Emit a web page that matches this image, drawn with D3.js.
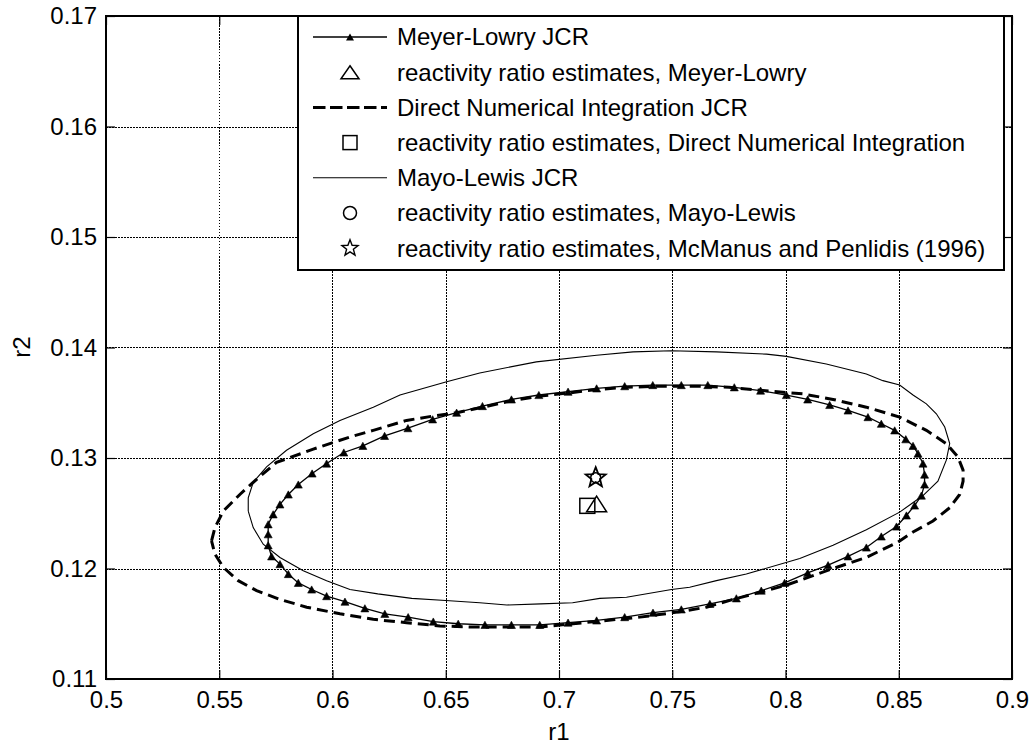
<!DOCTYPE html>
<html>
<head>
<meta charset="utf-8">
<script src="https://cdn.jsdelivr.net/npm/d3@7"></script>
<style>
  html, body { margin: 0; padding: 0; background: #fff; }
  svg { display: block; font-family: "Liberation Sans", Arial, Helvetica, sans-serif; }
</style>
</head>
<body>
<svg id="chart" width="1036" height="746"></svg>
<script>
// ---------------- data ----------------
const xTicks = [0.5, 0.55, 0.6, 0.65, 0.7, 0.75, 0.8, 0.85, 0.9];
const xTickLabels = ["0.5", "0.55", "0.6", "0.65", "0.7", "0.75", "0.8", "0.85", "0.9"];
const yTicks = [0.11, 0.12, 0.13, 0.14, 0.15, 0.16, 0.17];
const yTickLabels = ["0.11", "0.12", "0.13", "0.14", "0.15", "0.16", "0.17"];

// Meyer-Lowry JCR (r1, r2)
const meyerLowryR1 = [0.5716,0.5738,0.5768,0.5805,0.5849,0.5910,0.5974,0.6050,0.6134,0.6230,0.6333,0.6442,0.6548,0.6662,0.6790,0.6911,0.7040,0.7166,0.7290,0.7414,0.7540,0.7657,0.7774,0.7890,0.8004,0.8098,0.8195,0.8276,0.8364,0.8423,0.8482,0.8531,0.8563,0.8585,0.8607,0.8614,0.8614,0.8600,0.8570,0.8534,0.8490,0.8423,0.8357,0.8276,0.8188,0.8098,0.7996,0.7893,0.7783,0.7666,0.7540,0.7415,0.7290,0.7166,0.7040,0.6915,0.6790,0.6673,0.6555,0.6445,0.6334,0.6231,0.6143,0.6055,0.5974,0.5908,0.5849,0.5805,0.5768,0.5731,0.5716,0.5716,0.5716];
const meyerLowryR2 = [0.1240,0.1249,0.1258,0.1267,0.1276,0.1286,0.1295,0.1305,0.1311,0.1320,0.1327,0.1335,0.1341,0.1347,0.1353,0.1357,0.1360,0.1363,0.1365,0.1366,0.1366,0.1366,0.1364,0.1361,0.1357,0.1353,0.1348,0.1343,0.1337,0.1331,0.1325,0.1317,0.1311,0.1304,0.1295,0.1285,0.1276,0.1266,0.1257,0.1248,0.1238,0.1229,0.1219,0.1211,0.1203,0.1196,0.1187,0.1180,0.1173,0.1168,0.1163,0.1160,0.1156,0.1153,0.1151,0.1149,0.1149,0.1149,0.1150,0.1152,0.1156,0.1159,0.1164,0.1170,0.1175,0.1181,0.1187,0.1195,0.1204,0.1211,0.1221,0.1231,0.1240];

// Direct Numerical Integration JCR
const dniR1 = [0.5466,0.5481,0.5518,0.5591,0.5672,0.5753,0.5915,0.6003,0.6077,0.6180,0.6327,0.6445,0.6548,0.6665,0.6798,0.6916,0.7048,0.7166,0.7300,0.7450,0.7600,0.7750,0.7900,0.8077,0.8210,0.8357,0.8504,0.8622,0.8710,0.8761,0.8784,0.8784,0.8769,0.8725,0.8651,0.8563,0.8497,0.8357,0.8210,0.8004,0.7916,0.7768,0.7651,0.7540,0.7357,0.7210,0.7062,0.6915,0.6768,0.6621,0.6474,0.6327,0.6180,0.6033,0.5886,0.5768,0.5665,0.5584,0.5518,0.5481,0.5466];
const dniR2 = [0.1225,0.1237,0.1252,0.1267,0.1282,0.1296,0.1308,0.1314,0.1319,0.1325,0.1334,0.1338,0.1341,0.1346,0.1352,0.1356,0.1359,0.1362,0.1364,0.1365,0.1365,0.1364,0.1361,0.1358,0.1353,0.1346,0.1337,0.1325,0.1313,0.1301,0.1289,0.1279,0.1267,0.1255,0.1243,0.1233,0.1224,0.1210,0.1200,0.1185,0.1180,0.1172,0.1165,0.1161,0.1156,0.1153,0.1150,0.1147,0.1147,0.1147,0.1148,0.1151,0.1154,0.1159,0.1165,0.1172,0.1180,0.1189,0.1201,0.1213,0.1225];

// Mayo-Lewis JCR
const mayoLewisR1 = [0.5628,0.5628,0.5650,0.5709,0.5797,0.5915,0.6033,0.6180,0.6298,0.6504,0.6650,0.6900,0.7166,0.7327,0.7496,0.7695,0.7916,0.8004,0.8180,0.8357,0.8430,0.8504,0.8563,0.8622,0.8666,0.8703,0.8725,0.8710,0.8673,0.8607,0.8504,0.8357,0.8210,0.8063,0.7827,0.7695,0.7577,0.7497,0.7298,0.7180,0.7060,0.6920,0.6770,0.6650,0.6500,0.6350,0.6200,0.6077,0.5974,0.5871,0.5768,0.5694,0.5650,0.5628];
const mayoLewisR2 = [0.1252,0.1264,0.1278,0.1292,0.1307,0.1322,0.1334,0.1346,0.1357,0.1369,0.1377,0.1387,0.1393,0.1396,0.1397,0.1396,0.1394,0.1392,0.1385,0.1376,0.1370,0.1366,0.1357,0.1349,0.1340,0.1328,0.1313,0.1298,0.1279,0.1266,0.1251,0.1235,0.1221,0.1209,0.1195,0.1189,0.1183,0.1181,0.1174,0.1173,0.1169,0.1168,0.1167,0.1169,0.1171,0.1173,0.1177,0.1181,0.1189,0.1198,0.1210,0.1222,0.1237,0.1252];

// point estimates
const estMeyerLowry = [0.7166, 0.12584];
const estDNI = [0.7125, 0.12567];
const estMayoLewis = [0.7162, 0.12822];
const estMcManus = [0.7162, 0.12822];

const legendLabels = [
  "Meyer-Lowry JCR",
  "reactivity ratio estimates, Meyer-Lowry",
  "Direct Numerical Integration JCR",
  "reactivity ratio estimates, Direct Numerical Integration",
  "Mayo-Lewis JCR",
  "reactivity ratio estimates, Mayo-Lewis",
  "reactivity ratio estimates, McManus and Penlidis (1996)"
];

// ---------------- layout ----------------
const L = 106, R = 1012, T = 16, B = 679;
const FS = 24;
const svg = d3.select("#chart");
const x = d3.scaleLinear().domain([0.5, 0.9]).range([L, R]);
const y = d3.scaleLinear().domain([0.11, 0.17]).range([B, T]);

svg.append("rect").attr("x", 0).attr("y", 0).attr("width", 1036).attr("height", 746).attr("fill", "#fff");

// grid
const grid = svg.append("g").attr("stroke", "#000").attr("stroke-width", 1).attr("stroke-dasharray", "1.5,1.5").attr("shape-rendering", "crispEdges");
grid.selectAll("line.gx").data(xTicks).join("line").attr("class", "gx")
  .attr("x1", d => Math.round(x(d)) + 0.5).attr("x2", d => Math.round(x(d)) + 0.5).attr("y1", T).attr("y2", B);
grid.selectAll("line.gy").data(yTicks).join("line").attr("class", "gy")
  .attr("y1", d => Math.round(y(d)) + 0.5).attr("y2", d => Math.round(y(d)) + 0.5).attr("x1", L).attr("x2", R);

// curves
const zip = (a, b) => a.map((v, i) => [v, b[i]]);
const mlPts = zip(meyerLowryR1, meyerLowryR2);
const dniPts = zip(dniR1, dniR2);
const mayoPts = zip(mayoLewisR1, mayoLewisR2);
const line = d3.line().x(d => x(d[0])).y(d => y(d[1]));

svg.append("path").attr("d", line(mayoPts)).attr("fill", "none").attr("stroke", "#000").attr("stroke-width", 1.1);
svg.append("path").attr("d", line(dniPts)).attr("fill", "none").attr("stroke", "#000").attr("stroke-width", 3).attr("stroke-dasharray", "11,6");
svg.append("path").attr("d", line(mlPts)).attr("fill", "none").attr("stroke", "#000").attr("stroke-width", 1.3);

function triPath(hw, hh) {
  return `M0,${-hh}L${hw},${hh}L${-hw},${hh}Z`;
}
svg.append("g").selectAll("path").data(mlPts.slice(0, -1)).join("path")
  .attr("transform", d => `translate(${x(d[0])},${y(d[1])})`)
  .attr("d", triPath(4, 3.6)).attr("fill", "#000").attr("stroke", "#000").attr("stroke-width", 0.6);

function starPath(ro, ri) {
  let p = "";
  for (let i = 0; i < 10; i++) {
    const r = i % 2 === 0 ? ro : ri;
    const a = -Math.PI / 2 + i * Math.PI / 5;
    p += (i ? "L" : "M") + (r * Math.cos(a)).toFixed(2) + "," + (r * Math.sin(a)).toFixed(2);
  }
  return p + "Z";
}

// estimates
const est = svg.append("g").attr("fill", "none").attr("stroke", "#000");
est.append("rect").attr("x", x(estDNI[0]) - 7.5).attr("y", y(estDNI[1]) - 7.5).attr("width", 15).attr("height", 15).attr("stroke-width", 1.5);
est.append("path").attr("transform", `translate(${x(estMeyerLowry[0])},${y(estMeyerLowry[1])})`).attr("d", triPath(10, 7.8)).attr("stroke-width", 1.5);
est.append("circle").attr("cx", x(estMayoLewis[0])).attr("cy", y(estMayoLewis[1])).attr("r", 5).attr("stroke-width", 1.5);
est.append("path").attr("transform", `translate(${x(estMcManus[0])},${y(estMcManus[1])})`).attr("d", starPath(10.5, 4.5)).attr("stroke-width", 1.8);

// axes (inward ticks)
const ax = svg.append("g");
ax.append("g").attr("transform", `translate(0,${B})`)
  .call(d3.axisBottom(x).tickValues(xTicks).tickFormat((d, i) => xTickLabels[i]).tickSize(-9).tickPadding(12));
ax.append("g").attr("transform", `translate(${L},0)`)
  .call(d3.axisLeft(y).tickValues(yTicks).tickFormat((d, i) => yTickLabels[i]).tickSize(-9).tickPadding(9));
ax.append("g").attr("transform", `translate(0,${T})`)
  .call(d3.axisTop(x).tickValues(xTicks).tickFormat("").tickSize(-9));
ax.append("g").attr("transform", `translate(${R},0)`)
  .call(d3.axisRight(y).tickValues(yTicks).tickFormat("").tickSize(-9));
ax.selectAll(".domain").remove();
ax.selectAll(".tick line").attr("stroke", "#000").attr("stroke-width", 1.2);
ax.selectAll(".tick text").attr("font-size", FS).attr("fill", "#000").attr("font-family", "'Liberation Sans', Arial, sans-serif");

svg.append("rect").attr("x", L).attr("y", T).attr("width", R - L).attr("height", B - T)
  .attr("fill", "none").attr("stroke", "#000").attr("stroke-width", 2);

// axis labels
svg.append("text").attr("x", (L + R) / 2).attr("y", 740).attr("text-anchor", "middle").attr("font-size", FS).text("r1");
svg.append("text").attr("transform", "translate(30,347) rotate(-90)").attr("text-anchor", "middle").attr("font-size", FS).text("r2");

// legend
const lg = svg.append("g");
lg.append("rect").attr("x", 298).attr("y", T).attr("width", 706).attr("height", 254)
  .attr("fill", "#fff").attr("stroke", "#000").attr("stroke-width", 2);
const rowY = i => 37 + i * 35.2;
const sx0 = 313, sx1 = 387, sxm = 350;
legendLabels.forEach((t, i) => {
  lg.append("text").attr("x", 397).attr("y", rowY(i)).attr("dy", "0.35em").attr("font-size", FS).text(t);
});
lg.append("line").attr("x1", sx0).attr("x2", sx1).attr("y1", rowY(0)).attr("y2", rowY(0)).attr("stroke", "#000").attr("stroke-width", 1.3);
lg.append("path").attr("transform", `translate(${sxm},${rowY(0)})`).attr("d", triPath(4, 3.6)).attr("fill", "#000");
lg.append("path").attr("transform", `translate(${sxm},${rowY(1)})`).attr("d", triPath(9, 6.5)).attr("fill", "none").attr("stroke", "#000").attr("stroke-width", 1.5);
lg.append("line").attr("x1", sx0).attr("x2", sx1).attr("y1", rowY(2)).attr("y2", rowY(2)).attr("stroke", "#000").attr("stroke-width", 3).attr("stroke-dasharray", "12.5,4.5");
lg.append("rect").attr("x", sxm - 7).attr("y", rowY(3) - 7).attr("width", 14).attr("height", 14).attr("fill", "none").attr("stroke", "#000").attr("stroke-width", 1.5);
lg.append("line").attr("x1", sx0).attr("x2", sx1).attr("y1", rowY(4)).attr("y2", rowY(4)).attr("stroke", "#000").attr("stroke-width", 1.1);
lg.append("circle").attr("cx", sxm).attr("cy", rowY(5)).attr("r", 6.5).attr("fill", "none").attr("stroke", "#000").attr("stroke-width", 1.5);
lg.append("path").attr("transform", `translate(${sxm},${rowY(6)})`).attr("d", starPath(8.5, 3.6)).attr("fill", "none").attr("stroke", "#000").attr("stroke-width", 1.4);
</script>
</body>
</html>
